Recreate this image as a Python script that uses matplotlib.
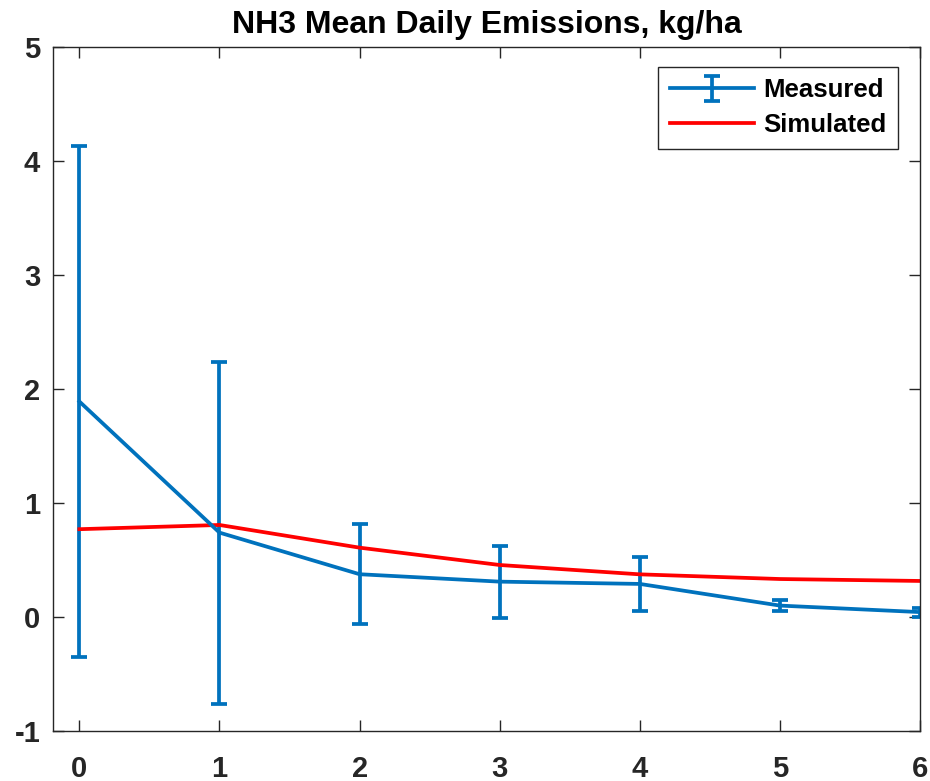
import numpy as np
import matplotlib.pyplot as plt

plt.rcParams['font.family'] = ['Liberation Sans', 'DejaVu Sans']
plt.rcParams['font.weight'] = 'bold'
plt.rcParams['axes.unicode_minus'] = False

days = [0, 1, 2, 3, 4, 5, 6]
measured = [1.89, 0.74, 0.375, 0.31, 0.29, 0.10, 0.043]
measured_err = [2.24, 1.50, 0.44, 0.315, 0.24, 0.047, 0.04]
simulated = [0.77, 0.807, 0.608, 0.456, 0.374, 0.333, 0.316]

fig = plt.figure(figsize=(9.3, 7.81), dpi=100)
ax = fig.add_axes([0.0567, 0.064, 0.9326, 0.876])

meas = ax.errorbar(days, measured, yerr=measured_err, color='#0072BD', lw=2.7,
                   elinewidth=2.7, capsize=5.5, capthick=2.7, label='Measured')
sim, = ax.plot(days, simulated, color='#FF0000', lw=2.7, label='Simulated')

ax.set_xlim(-0.19, 6)
ax.set_ylim(-1, 5)
ax.set_xticks(range(0, 7))
ax.set_yticks(range(-1, 6))
ax.tick_params(direction='in', length=8, width=1, colors='#262626',
               labelsize=21, top=True, right=True)
ax.tick_params(axis='x', pad=17)
ax.tick_params(axis='y', pad=9)
for lab in ax.get_xticklabels() + ax.get_yticklabels():
    lab.set_fontweight('bold')
for s in ax.spines.values():
    s.set_color('#262626')
    s.set_linewidth(1)

ax.set_title('NH3 Mean Daily Emissions, kg/ha', fontsize=23,
             fontweight='bold', pad=10)

leg = ax.legend([meas, sim], ['Measured', 'Simulated'], loc='upper right',
                bbox_to_anchor=(0.9747, 0.9708), borderaxespad=0,
                fontsize=18.5, fancybox=False, framealpha=1,
                handlelength=3.3, borderpad=0.45, labelspacing=0.42,
                handletextpad=0.35)
leg.get_frame().set_edgecolor('#262626')
leg.get_frame().set_linewidth(1)

fig.savefig('out.png', dpi=100)
